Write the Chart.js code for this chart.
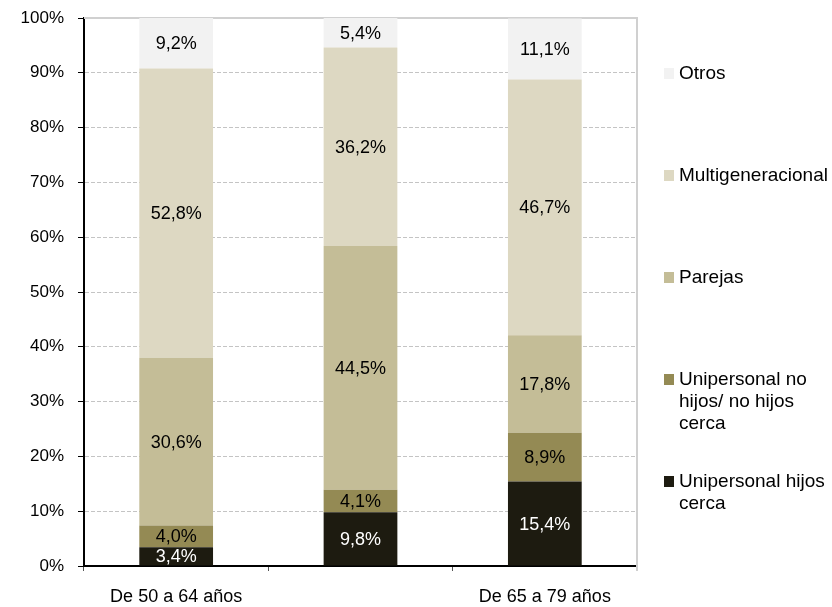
<!DOCTYPE html>
<html>
<head>
<meta charset="utf-8">
<script src="https://cdn.jsdelivr.net/npm/chart.js@4"></script>
<style>
  body { margin: 0; background: #fff; }
  #wrap { width: 832px; height: 607px; position: relative; }
</style>
</head>
<body>
<div id="wrap"><canvas id="hogares"></canvas></div>
<script>
const FONT = '"Liberation Sans", Arial, sans-serif';

// age groups (the middle one has no label on the axis)
const categories = ['De 50 a 64 años', '', 'De 65 a 79 años'];
const yTicks = [0, 10, 20, 30, 40, 50, 60, 70, 80, 90, 100];

const seriesNames = [
  'Unipersonal hijos cerca',
  'Unipersonal no hijos/ no hijos cerca',
  'Parejas',
  'Multigeneracional',
  'Otros'
];
const unipersonalCerca = [3.4, 9.8, 15.4];
const unipersonalNoCerca = [4.0, 4.1, 8.9];
const parejas = [30.6, 44.5, 17.8];
const multigeneracional = [52.8, 36.2, 46.7];
const otros = [9.2, 5.4, 11.1];

const seriesValues = [unipersonalCerca, unipersonalNoCerca, parejas, multigeneracional, otros];
const seriesColors = ['#1d1b10', '#948a54', '#c4bd97', '#ddd8c2', '#f2f2f2'];
const labelColors = ['#ffffff', '#000000', '#000000', '#000000', '#000000'];

const fmt = v => v.toFixed(1).replace('.', ',') + '%';

// value labels in the middle of each segment
const segmentLabels = {
  id: 'segmentLabels',
  afterDatasetsDraw(chart) {
    const ctx = chart.ctx;
    ctx.save();
    ctx.font = '18px ' + FONT;
    ctx.textAlign = 'center';
    ctx.textBaseline = 'middle';
    chart.data.datasets.forEach((ds, i) => {
      chart.getDatasetMeta(i).data.forEach((bar, j) => {
        const { x, y, base } = bar.getProps(['x', 'y', 'base'], true);
        ctx.fillStyle = ds.labelColor;
        ctx.fillText(fmt(ds.data[j]), x, (y + base) / 2 + 1);
      });
    });
    ctx.restore();
  }
};

// solid top line and right edge of the plot area
const plotFrame = {
  id: 'plotFrame',
  beforeDatasetsDraw(chart) {
    const { ctx, chartArea: a } = chart;
    ctx.save();
    ctx.strokeStyle = '#d0d0d0';
    ctx.lineWidth = 2;
    ctx.beginPath();
    ctx.moveTo(a.left, a.top);
    ctx.lineTo(a.right, a.top);
    ctx.lineTo(a.right, a.bottom + 5);
    ctx.stroke();
    ctx.restore();
  }
};

// legend on the right, top series first, wrapped text
const sideLegend = {
  id: 'sideLegend',
  afterDraw(chart) {
    const ctx = chart.ctx;
    const x = chart.chartArea.right + 27;
    const maxW = 160;
    ctx.save();
    ctx.font = '19px ' + FONT;
    ctx.textBaseline = 'middle';
    ctx.textAlign = 'left';
    const items = chart.data.datasets.slice().reverse();
    items.forEach((ds, k) => {
      const y = 74 + k * 102;
      ctx.fillStyle = ds.backgroundColor;
      ctx.fillRect(x, y - 6, 10, 11);
      const words = ds.label.split(' ');
      const lines = [];
      let line = '';
      words.forEach(w => {
        const test = line ? line + ' ' + w : w;
        if (line && ctx.measureText(test).width > maxW) {
          lines.push(line);
          line = w;
        } else {
          line = test;
        }
      });
      lines.push(line);
      ctx.fillStyle = '#000';
      lines.forEach((t, n) => ctx.fillText(t, x + 15, y + n * 22));
    });
    ctx.restore();
  }
};

const datasets = seriesNames.map((name, i) => ({
  label: name,
  data: seriesValues[i],
  backgroundColor: seriesColors[i],
  borderWidth: 0,
  labelColor: labelColors[i],
  categoryPercentage: 1,
  barPercentage: 0.4
}));

new Chart(document.getElementById('hogares'), {
  type: 'bar',
  data: { labels: categories, datasets },
  plugins: [plotFrame, segmentLabels, sideLegend],
  options: {
    responsive: true,
    maintainAspectRatio: false,
    animation: false,
    layout: { padding: { top: 18, right: 195, left: 0, bottom: 0 } },
    plugins: {
      legend: { display: false },
      tooltip: { enabled: false }
    },
    scales: {
      x: {
        stacked: true,
        afterFit: s => { s.height = 41; },
        border: { display: true, color: '#000', width: 2 },
        grid: {
          offset: true,
          drawOnChartArea: false,
          drawTicks: true,
          tickLength: 5,
          tickColor: '#555'
        },
        ticks: {
          autoSkip: false,
          maxRotation: 0,
          padding: 15,
          color: '#000',
          font: { family: FONT, size: 18 }
        }
      },
      y: {
        stacked: true,
        min: 0,
        max: 100,
        afterFit: s => {
          s.width = 84;
          s.paddingTop = 0;
          s.paddingBottom = 0;
        },
        afterBuildTicks: s => { s.ticks = yTicks.map(v => ({ value: v })); },
        border: { display: true, color: '#000', width: 2, dash: [4, 2] },
        grid: {
          color: '#c4c4c4',
          lineWidth: 1,
          tickLength: 6,
          tickColor: '#000',
          tickBorderDash: []
        },
        ticks: {
          padding: 14,
          color: '#000',
          font: { family: FONT, size: 17 },
          callback: v => v + '%'
        }
      }
    }
  }
});
</script>
</body>
</html>
